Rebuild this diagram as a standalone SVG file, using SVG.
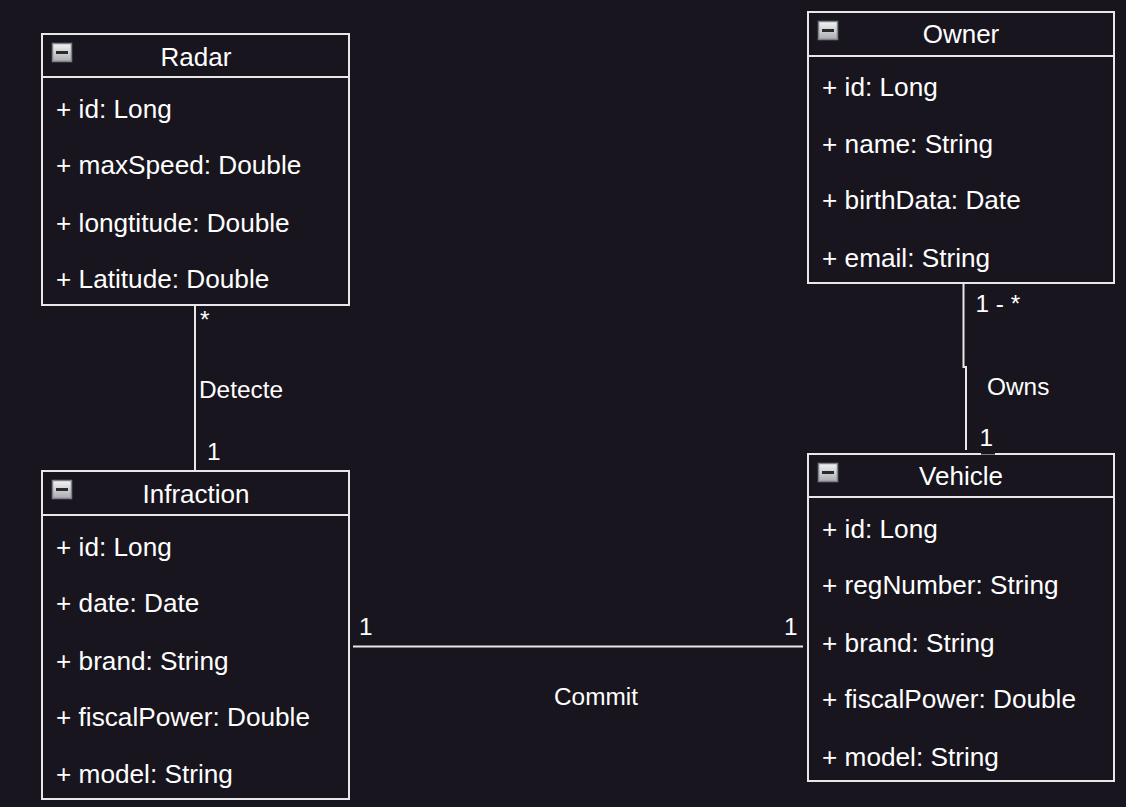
<svg xmlns="http://www.w3.org/2000/svg" width="1126" height="807" viewBox="0 0 1126 807">
<defs>
<linearGradient id="ig" x1="0" y1="0" x2="0" y2="1">
<stop offset="0" stop-color="#f4f4f4"/>
<stop offset="1" stop-color="#a9abb0"/>
</linearGradient>
<g id="icon">
<rect x="0.5" y="0.5" width="19" height="18" fill="url(#ig)" stroke="#7d8088" stroke-width="1.5"/>
<rect x="4" y="8" width="12" height="3" fill="#2a2a2a"/>
</g>
</defs>
<style>
.box{fill:#18151e;stroke:#e8e8e8;stroke-width:2}
.sep{stroke:#e8e8e8;stroke-width:2}
.title{font-family:"Liberation Sans",Arial,sans-serif;font-size:26px;fill:#ffffff;text-anchor:middle}
.attr{font-family:"Liberation Sans",Arial,sans-serif;font-size:26.2px;fill:#ffffff}
.lbl{font-family:"Liberation Sans",Arial,sans-serif;font-size:24.4px;fill:#ffffff}
.edge{fill:none;stroke:#e8e8e8;stroke-width:2}
</style>
<rect x="0" y="0" width="1126" height="807" fill="#18151e"/>

<g id="connectors">
<path class="edge" d="M195,305 L195,471"/>
<path class="edge" d="M963.5,283 L963.5,367 L966,367 L966,450"/>
<path class="edge" d="M353,646.5 L803,646.5"/>
<text class="lbl" x="200" y="328">*</text>
<text class="lbl" x="199" y="398">Detecte</text>
<text class="lbl" x="207" y="460">1</text>
<text class="lbl" x="975.5" y="312">1 - *</text>
<text class="lbl" x="987" y="395">Owns</text>
<text class="lbl" x="979.5" y="446">1</text>
<text class="lbl" x="359" y="635">1</text>
<text class="lbl" x="784" y="635">1</text>
<text class="lbl" x="554" y="705">Commit</text>
</g>

<g id="radar">
<rect class="box" x="42" y="34" width="307" height="271"/>
<line class="sep" x1="42" y1="77" x2="349" y2="77"/>
<use href="#icon" x="52" y="43"/>
<text class="title" x="196" y="66">Radar</text>
<text class="attr" x="56" y="118">+ id: Long</text>
<text class="attr" x="56" y="174">+ maxSpeed: Double</text>
<text class="attr" x="56" y="232">+ longtitude: Double</text>
<text class="attr" x="56" y="288">+ Latitude: Double</text>
</g>

<g id="owner">
<rect class="box" x="808" y="12" width="306" height="271"/>
<line class="sep" x1="808" y1="56" x2="1114" y2="56"/>
<use href="#icon" x="818" y="21"/>
<text class="title" x="961" y="43">Owner</text>
<text class="attr" x="822" y="96">+ id: Long</text>
<text class="attr" x="822" y="153">+ name: String</text>
<text class="attr" x="822" y="209">+ birthData: Date</text>
<text class="attr" x="822" y="267">+ email: String</text>
</g>

<g id="infraction">
<rect class="box" x="42" y="471" width="307" height="328"/>
<line class="sep" x1="42" y1="515" x2="349" y2="515"/>
<use href="#icon" x="52" y="480"/>
<text class="title" x="196" y="503">Infraction</text>
<text class="attr" x="56" y="556">+ id: Long</text>
<text class="attr" x="56" y="612">+ date: Date</text>
<text class="attr" x="56" y="670">+ brand: String</text>
<text class="attr" x="56" y="726">+ fiscalPower: Double</text>
<text class="attr" x="56" y="783">+ model: String</text>
</g>

<g id="vehicle">
<rect class="box" x="808" y="454" width="306" height="327"/>
<line class="sep" x1="808" y1="497" x2="1114" y2="497"/>
<use href="#icon" x="818" y="463"/>
<text class="title" x="961" y="485">Vehicle</text>
<text class="attr" x="822" y="538">+ id: Long</text>
<text class="attr" x="822" y="594">+ regNumber: String</text>
<text class="attr" x="822" y="652">+ brand: String</text>
<text class="attr" x="822" y="708">+ fiscalPower: Double</text>
<text class="attr" x="822" y="766">+ model: String</text>
<rect x="981" y="450" width="14" height="4.5" fill="#18151e"/>
</g>
</svg>
